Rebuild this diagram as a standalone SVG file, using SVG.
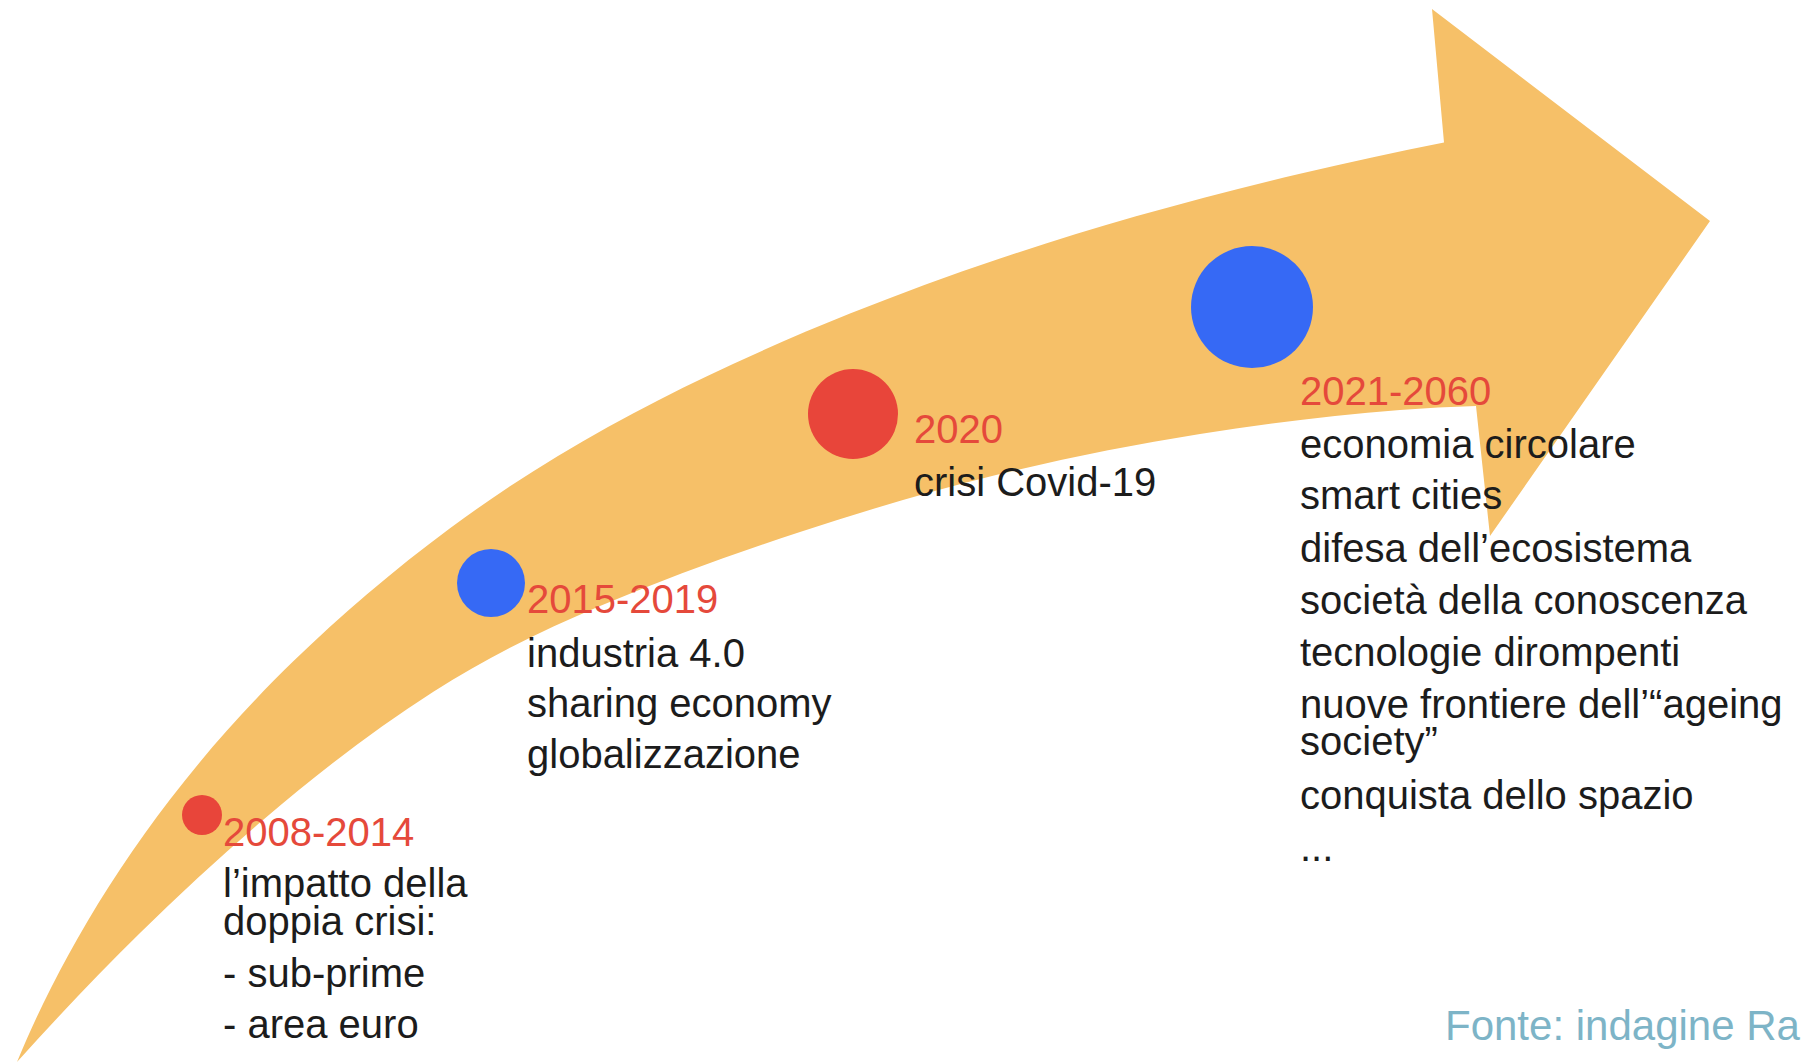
<svg xmlns="http://www.w3.org/2000/svg" width="1803" height="1064" viewBox="0 0 1803 1064">
<style>
.t{font-family:"Liberation Sans",Arial,sans-serif;font-size:40px;fill:#1c1c1c}
.y{font-family:"Liberation Sans",Arial,sans-serif;font-size:40px;fill:#e5493b}
.src{font-family:"Liberation Sans",Arial,sans-serif;font-size:42px;fill:#7db4c7}
.red{fill:#e8453a}
.blue{fill:#3669f5}
</style>
<rect width="1803" height="1064" fill="#ffffff"/>
<g id="arrow">
<path fill="#f6c068" d="M17,1062 C25.67,1041.2 34.33,1021.77 43,1004 C54.33,980.77 65.67,959.33 77,939.5 C91.33,914.42 105.67,891.1 120,869.6 C136.67,844.6 153.33,821.27 170,799.6 C189,774.9 208,751.88 227,730.6 C249,705.96 271,682.94 293,661.6 C317.67,637.67 342.33,615.27 367,594.3 C394.67,570.78 422.33,548.77 450,528.3 C477.67,507.83 505.33,488.83 533,471.4 C566.33,450.4 599.67,431.07 633,413.4 C666.33,395.73 699.67,379.23 733,363.9 C772,345.96 811,329.2 850,313.6 C900,293.6 950,275.25 1000,258.5 C1045.33,243.31 1090.67,229.22 1136,216.3 C1190.67,200.72 1245.33,186.55 1300,173.7 C1348,162.42 1396,152 1444,142.4 L1432,9 L1710,221 L1490,536 L1476,406 C1450.67,406.89 1425.33,408 1400,410 C1333.33,415.27 1266.67,423.47 1200,434 C1133.33,444.53 1066.67,457.6 1000,474 C933.33,490.4 866.67,510.07 800,532 C733.33,553.93 666.67,578 600,606 C544.33,629.38 488.67,656.54 433,692 C376.33,728.1 319.67,771.6 263,820 C222,855.01 181,892.7 140,933 C99,973.3 58,1016.49 17,1062 Z"/>
</g>
<g id="node-2008">
<circle class="red" cx="202" cy="815" r="20"/>
<text class="y" x="223" y="846">2008-2014</text>
<text class="t" x="223" y="897">l’impatto della</text>
<text class="t" x="223" y="935">doppia crisi:</text>
<text class="t" x="223" y="987">- sub-prime</text>
<text class="t" x="223" y="1038">- area euro</text>
</g>
<g id="node-2015">
<circle class="blue" cx="491" cy="583" r="34"/>
<text class="y" x="527" y="613">2015-2019</text>
<text class="t" x="527" y="667">industria 4.0</text>
<text class="t" x="527" y="717">sharing economy</text>
<text class="t" x="527" y="768">globalizzazione</text>
</g>
<g id="node-2020">
<circle class="red" cx="853" cy="414" r="45"/>
<text class="y" x="914" y="443">2020</text>
<text class="t" x="914" y="496">crisi Covid-19</text>
</g>
<g id="node-2021">
<circle class="blue" cx="1252" cy="307" r="61"/>
<text class="y" x="1300" y="405">2021-2060</text>
<text class="t" x="1300" y="458">economia circolare</text>
<text class="t" x="1300" y="509">smart cities</text>
<text class="t" x="1300" y="562">difesa dell’ecosistema</text>
<text class="t" x="1300" y="614">società della conoscenza</text>
<text class="t" x="1300" y="666">tecnologie dirompenti</text>
<text class="t" x="1300" y="718">nuove frontiere dell’“ageing</text>
<text class="t" x="1300" y="755">society”</text>
<text class="t" x="1300" y="809">conquista dello spazio</text>
<text class="t" x="1300" y="861">...</text>
</g>
<g id="connectors"/>
<g id="source">
<text class="src" x="1445" y="1040">Fonte: indagine Ra</text>
</g>
</svg>
